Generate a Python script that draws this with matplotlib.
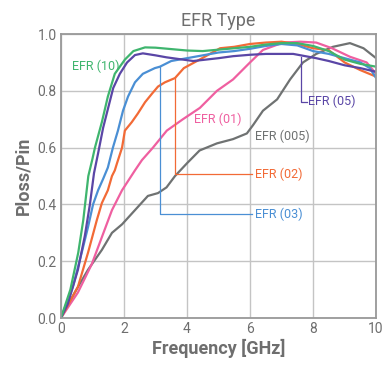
import matplotlib
matplotlib.use("Agg")
import matplotlib.pyplot as plt

plt.rcParams["font.family"] = ["Roboto", "DejaVu Sans"]

# EFR (10)
green_x = [0, 0.3, 0.55, 0.71, 0.87, 1.0, 1.08, 1.3, 1.49, 1.71, 2.03, 2.3, 2.67, 3.0, 3.5,
           4.0, 4.5, 5.0, 5.5, 6.0, 6.5, 7.0, 7.5, 8.0, 8.5, 9.0, 9.5, 10]
green_y = [0, 0.1, 0.23, 0.345, 0.5, 0.56, 0.6, 0.69, 0.78, 0.86, 0.91, 0.94, 0.953, 0.952, 0.947,
           0.942, 0.94, 0.945, 0.95, 0.955, 0.963, 0.968, 0.968, 0.958, 0.94, 0.91, 0.895, 0.885]
# EFR (05)
purple_x = [0, 0.22, 0.54, 0.76, 0.92, 1.05, 1.18, 1.34, 1.5, 1.66, 1.87, 2.1, 2.35, 2.6, 3.0, 3.35,
            4.2, 5.0, 5.46, 6.0, 6.5, 7.0, 7.37, 8.1, 8.5, 9.0, 9.5, 10]
purple_y = [0, 0.05, 0.17, 0.29, 0.4, 0.51, 0.58, 0.67, 0.74, 0.81, 0.86, 0.9, 0.926, 0.932, 0.925, 0.918,
            0.905, 0.915, 0.922, 0.927, 0.93, 0.93, 0.93, 0.915, 0.905, 0.89, 0.88, 0.867]
# EFR (03)
blue_x = [0, 0.38, 0.66, 0.86, 1.02, 1.18, 1.34, 1.49, 1.65, 1.81, 1.97, 2.13, 2.35, 2.6, 2.98, 3.14,
          3.5, 4.0, 4.5, 5.0, 5.5, 6.0, 6.5, 7.0, 7.5, 8.0, 8.5, 9.0, 9.5, 9.8, 10]
blue_y = [0, 0.11, 0.23, 0.32, 0.40, 0.45, 0.49, 0.53, 0.60, 0.66, 0.73, 0.78, 0.83, 0.86, 0.88, 0.885,
          0.905, 0.915, 0.925, 0.935, 0.94, 0.948, 0.958, 0.965, 0.96, 0.94, 0.93, 0.915, 0.9, 0.88, 0.845]
# EFR (02)
orange_x = [0, 0.54, 0.86, 1.14, 1.3, 1.49, 1.62, 1.71, 1.78, 1.94, 2.03, 2.25, 2.44, 2.67, 2.89, 3.08,
            3.3, 3.62, 3.9, 4.4, 5.05, 5.5, 6.0, 6.5, 7.0, 7.5, 8.0, 8.5, 9.0, 9.5, 10]
orange_y = [0, 0.11, 0.23, 0.345, 0.405, 0.45, 0.5, 0.52, 0.545, 0.60, 0.66, 0.69, 0.72, 0.76, 0.79, 0.815,
            0.83, 0.845, 0.88, 0.91, 0.95, 0.955, 0.965, 0.97, 0.973, 0.965, 0.95, 0.943, 0.90, 0.873, 0.85]
# EFR (01)
pink_x = [0, 0.54, 0.98, 1.3, 1.62, 1.94, 2.35, 2.57, 2.92, 3.36, 3.87, 4.41, 4.95, 5.46, 6.0, 6.41,
          7.05, 7.6, 8.1, 8.6, 9.17, 9.7, 10]
pink_y = [0, 0.09, 0.19, 0.285, 0.38, 0.45, 0.52, 0.556, 0.60, 0.66, 0.70, 0.74, 0.80, 0.84, 0.90, 0.944,
          0.97, 0.973, 0.97, 0.95, 0.92, 0.90, 0.86]
# EFR (005)
gray_x = [0, 0.44, 0.86, 1.3, 1.62, 1.94, 2.35, 2.76, 3.08, 3.35, 3.62, 4.0, 4.4, 4.95, 5.46, 5.9, 6.1,
          6.41, 6.86, 7.27, 7.68, 8.1, 8.63, 9.17, 9.6, 10]
gray_y = [0, 0.09, 0.17, 0.24, 0.30, 0.33, 0.38, 0.43, 0.44, 0.46, 0.50, 0.545, 0.59, 0.615, 0.63, 0.65, 0.68,
          0.73, 0.77, 0.84, 0.90, 0.93, 0.955, 0.968, 0.95, 0.915]

x_ticks = [0, 2, 4, 6, 8, 10]
y_ticks = [0.0, 0.2, 0.4, 0.6, 0.8, 1.0]

GREEN = "#3fb56e"
PURPLE = "#5a46a6"
BLUE = "#4a8fd4"
ORANGE = "#f26a36"
PINK = "#ef5fa0"
GRAY = "#6f7272"
TEXT = "#6e6e6e"

fig = plt.figure(figsize=(3.83, 3.66), dpi=100)
ax = fig.add_axes([0.159, 0.131, 0.823, 0.776])

ax.plot(gray_x, gray_y, color=GRAY, lw=1.6)
ax.plot(pink_x, pink_y, color=PINK, lw=1.6)
ax.plot(orange_x, orange_y, color=ORANGE, lw=1.6)
ax.plot(blue_x, blue_y, color=BLUE, lw=1.6)
ax.plot(purple_x, purple_y, color=PURPLE, lw=1.6)
ax.plot(green_x, green_y, color=GREEN, lw=1.6)

# leader lines
ax.plot([3.14, 3.14, 6.06], [0.885, 0.366, 0.366], color=BLUE, lw=0.9)
ax.plot([3.62, 3.62, 6.06], [0.845, 0.507, 0.507], color=ORANGE, lw=0.9)
ax.plot([7.62, 7.62, 7.8], [0.92, 0.762, 0.762], color=PURPLE, lw=0.9)

lab = dict(fontsize=9, va="center")
ax.text(0.35, 0.887, "EFR (10)", color=GREEN, **lab)
ax.text(4.22, 0.70, "EFR (01)", color=PINK, **lab)
ax.text(6.15, 0.64, "EFR (005)", color=GRAY, **lab)
ax.text(6.15, 0.507, "EFR (02)", color=ORANGE, **lab)
ax.text(6.15, 0.366, "EFR (03)", color=BLUE, **lab)
ax.text(7.85, 0.762, "EFR (05)", color=PURPLE, **lab)

ax.set_xlim(0, 10)
ax.set_ylim(0, 1.0)
ax.set_xticks(x_ticks)
ax.set_yticks(y_ticks)
ax.set_xticklabels([str(v) for v in x_ticks])
ax.set_yticklabels([f"{v:.1f}" for v in y_ticks])
ax.tick_params(length=0, labelsize=10, colors=TEXT, pad=3)
ax.grid(True, color="#c4c4c4", lw=1.0)
ax.set_axisbelow(True)
for s in ax.spines.values():
    s.set_color("#999999")
    s.set_linewidth(1.3)

ax.set_title("EFR Type", fontsize=13, color=TEXT, pad=6)
ax.set_xlabel("Frequency [GHz]", fontsize=13, fontweight="bold", color=TEXT, labelpad=2)
ax.set_ylabel("Ploss/Pin", fontsize=13, fontweight="bold", color=TEXT, labelpad=4)

fig.savefig("out.png", dpi=100)
